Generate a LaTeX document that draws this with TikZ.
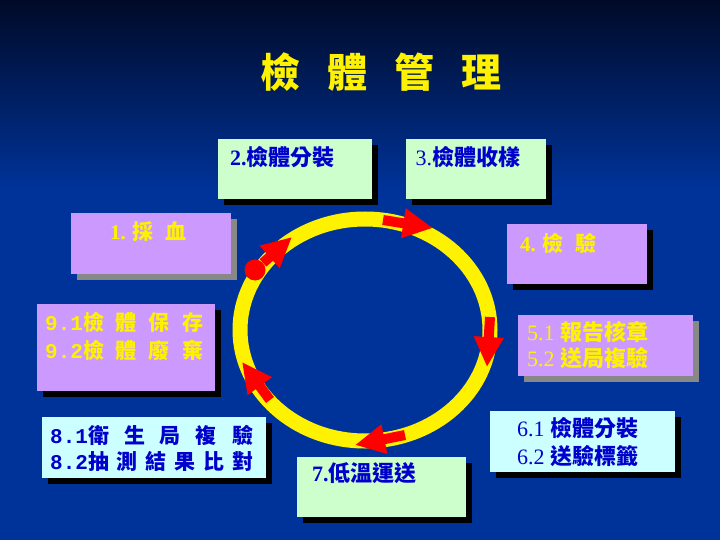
\documentclass[tikz,border=0pt]{standalone}
\usepackage{fontspec}
\setmainfont{Liberation Serif}
\newfontfamily\cjk{Noto Sans CJK TC}
\newfontfamily\dmono{Liberation Mono}
\usetikzlibrary{arrows.meta,positioning,shadows,calc}

\definecolor{bgblue}{HTML}{003399}
\definecolor{bgdark}{HTML}{000A28}
\definecolor{lilac}{HTML}{CC99FF}
\definecolor{mint}{HTML}{CCFFCC}
\definecolor{ice}{HTML}{CCFFFF}
\definecolor{txtblue}{HTML}{0000CC}
\definecolor{shgray}{HTML}{888888}
\newcommand\zh[1]{{\cjk\bfseries #1}}

\begin{document}
\begin{tikzpicture}[x=1pt,y=-1pt,
		Box/.style={rectangle,anchor=north west,inner sep=0,minimum height=60pt},
		BlackSh/.style={drop shadow={shadow xshift=6pt,shadow yshift=-6pt,fill=black,opacity=1}},
		GraySh/.style={drop shadow={shadow xshift=6pt,shadow yshift=-6pt,fill=shgray,opacity=1}},
		Lbl/.style={anchor=west,inner sep=0,font=\fontsize{21}{28}\selectfont,align=left},
		Ring/.style={yellow,line width=15pt},
		RedArrow/.style={red,line width=10pt,-{Triangle[length=30pt,width=28pt]}}]
		\pgfmathsetmacro{\gap}{12}
		% background
		\fill[bgblue] (0,0) rectangle (720,540);
		\shade[top color=bgdark,bottom color=bgblue] (0,0) rectangle (720,190);
		\useasboundingbox (0,0) rectangle (720,540);
		% title
		\node[font=\cjk\bfseries\fontsize{40}{40}\selectfont,text=yellow] (Title) at (381,72) {檢\hspace{27pt}體\hspace{27pt}管\hspace{27pt}理};
		% boxes
		\node[Box,fill=mint,BlackSh,minimum width=154pt] (Box2) at (218,139) {};
		\node[Box,fill=mint,BlackSh,minimum width=140pt,right=33pt of Box2] (Box3) {};
		\node[Box,fill=lilac,GraySh,minimum width=160pt,minimum height=61pt] (Box1) at (71,213) {};
		\node[Box,fill=lilac,BlackSh,minimum width=140pt] (Box4) at (507,224) {};
		\node[Box,fill=lilac,BlackSh,minimum width=178pt,minimum height=87pt] (Box9) at (37,304) {};
		\node[Box,fill=ice,BlackSh,minimum width=224pt,minimum height=61pt] (Box8) at (42,417) {};
		\node[Box,fill=mint,BlackSh,minimum width=169pt] (Box7) at (297,457) {};
		\node[Box,fill=lilac,GraySh,minimum width=175pt,minimum height=61pt] (Box5) at (518,315) {};
		\node[Box,fill=ice,BlackSh,minimum width=185pt,minimum height=61pt] (Box6) at (490,411) {};
		% labels
		\node[Lbl,text=txtblue,font=\fontsize{22}{28}\selectfont] (Lbl2) at ($(Box2.north west)+(12,18)$) {{\bfseries 2.}\zh{檢體分裝}};
		\node[Lbl,text=txtblue,font=\fontsize{22}{28}\selectfont] (Lbl3) at ($(Box3.north west)+(10,18)$) {3.\zh{檢體收樣}};
		\node[Lbl,text=yellow] (Lbl1) at ($(Box1.north west)+(39,19)$) {{\bfseries 1. }\zh{採\hspace{\gap pt}血}};
		\node[Lbl,text=yellow] (Lbl4) at ($(Box4.north west)+(13,19)$) {{\bfseries 4. }\zh{檢\hspace{\gap pt}驗}};
		\node[Lbl,text=yellow] (Lbl9) at ($(Box9.north west)+(8,32)$) {{\dmono\bfseries 9.1}\zh{檢\hspace{\gap pt}體\hspace{\gap pt}保\hspace{\gap pt}存}\\
			{\dmono\bfseries 9.2}\zh{檢\hspace{\gap pt}體\hspace{\gap pt}廢\hspace{\gap pt}棄}};
		\node[Lbl,text=txtblue,font=\fontsize{21}{26}\selectfont] (Lbl8) at ($(Box8.north west)+(8,31)$) {{\dmono\bfseries 8.1}\zh{衛\hspace{15pt}生\hspace{15pt}局\hspace{15pt}複\hspace{15pt}驗}\\
			{\dmono\bfseries 8.2}\zh{抽\hspace{8pt}測\hspace{8pt}結\hspace{8pt}果\hspace{8pt}比\hspace{8pt}對}};
		\node[Lbl,text=txtblue,font=\fontsize{22}{28}\selectfont] (Lbl7) at ($(Box7.north west)+(15,16)$) {{\bfseries 7.}\zh{低溫運送}};
		\node[Lbl,text=yellow,font=\fontsize{22}{26}\selectfont] (Lbl5) at ($(Box5.north west)+(9,30)$) {5.1 \zh{報告核章}\\5.2 \zh{送局複驗}};
		\node[Lbl,text=txtblue,font=\fontsize{22}{28}\selectfont] (Lbl6) at ($(Box6.north west)+(27,31)$) {6.1 \zh{檢體分裝}\\6.2 \zh{送驗標籤}};
		% ring
		\coordinate (RingC) at (365,330);
		\draw[Ring] (RingC) ellipse [x radius=125pt,y radius=111pt];
		\node[circle,fill=red,minimum size=21pt,inner sep=0] (Start) at (255,270) {};
		\coordinate (A1) at (292,237);
		\coordinate (A2s) at (383,220); \coordinate (A2) at (433,228);
		\coordinate (A3s) at (490,317); \coordinate (A3) at (487,367);
		\coordinate (A4s) at (405,435); \coordinate (A4) at (355,445);
		\coordinate (A5s) at (270,400); \coordinate (A5) at (242,362);
		% connections
		\draw[RedArrow] (Start) -- (A1);
		\draw[RedArrow] (A2s) -- (A2);
		\draw[RedArrow] (A3s) -- (A3);
		\draw[RedArrow] (A4s) -- (A4);
		\draw[RedArrow] (A5s) -- (A5);
	\end{tikzpicture}
\end{document}
